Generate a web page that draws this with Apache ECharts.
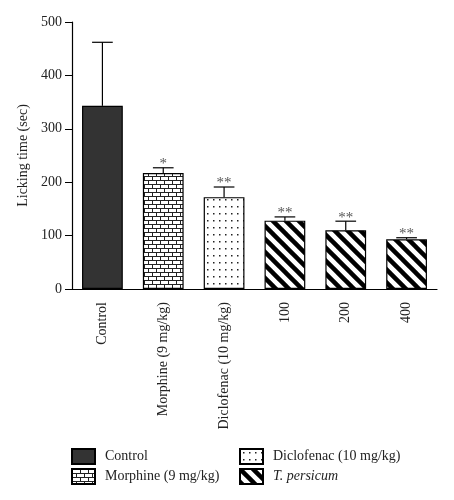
<!DOCTYPE html>
<html>
<head>
<meta charset="utf-8">
<style>
  html, body { margin: 0; padding: 0; background: #fff; }
  #chart { width: 454px; height: 500px; }
</style>
</head>
<body>
<div id="chart"></div>
<script src="https://cdn.jsdelivr.net/npm/echarts@6/dist/echarts.min.js"></script>
<script type="text/javascript">
// data
var categories = ['Control', 'Morphine (9 mg/kg)', 'Diclofenac (10 mg/kg)', '100', '200', '400'];
var means = [343, 217, 172, 128, 110, 93];
var errors = [119, 10, 19, 7, 17, 3];
var marks = ['', '*', '**', '**', '**', '**'];
var groups = ['Control', 'Morphine (9 mg/kg)', 'Diclofenac (10 mg/kg)', 'T. persicum'];
var groupOf = [0, 1, 2, 3, 3, 3];
var yTicks = [0, 100, 200, 300, 400, 500];

var FONT = 'Liberation Serif';

function makeTile(w, h, draw) {
    var c = document.createElement('canvas');
    c.width = w; c.height = h;
    var ctx = c.getContext('2d');
    ctx.fillStyle = '#fff';
    ctx.fillRect(0, 0, w, h);
    draw(ctx, w, h);
    return { image: c, repeat: 'repeat' };
}

var brick = makeTile(8, 8, function (ctx) {
    ctx.fillStyle = '#222';
    ctx.fillRect(0, 0, 8, 1);
    ctx.fillRect(0, 4, 8, 1);
    ctx.fillRect(0, 0, 1, 4);
    ctx.fillRect(4, 4, 1, 4);
});
var dots = makeTile(6, 7, function (ctx) {
    ctx.fillStyle = '#222';
    ctx.fillRect(3, 3, 1.5, 1.5);
});
var stripes = makeTile(13, 13, function (ctx, s) {
    ctx.strokeStyle = '#000';
    ctx.lineWidth = 4.5;
    for (var k = -1; k <= 1; k++) {
        ctx.beginPath();
        ctx.moveTo(k * s - 2, -2);
        ctx.lineTo(k * s + s + 2, s + 2);
        ctx.stroke();
    }
});
var fills = ['#333333', brick, dots, stripes];

var series = groups.map(function (g, gi) {
    return {
        name: g,
        type: 'bar',
        barWidth: '67%',
        barGap: '-100%',
        itemStyle: { color: fills[gi], borderColor: '#000', borderWidth: 1.2 },
        data: means.map(function (v, i) { return groupOf[i] === gi ? v : '-'; })
    };
});

series.push({
    type: 'custom',
    name: 'err',
    z: 5,
    data: means.map(function (v, i) { return [i, v, v + errors[i], marks[i]]; }),
    renderItem: function (params, api) {
        var base = api.coord([api.value(0), api.value(1)]);
        var top = api.coord([api.value(0), api.value(2)]);
        var half = api.size([1, 0])[0] * 0.17;
        var line = { stroke: '#000', lineWidth: 1.2 };
        return {
            type: 'group',
            children: [
                { type: 'line', shape: { x1: base[0], y1: base[1], x2: top[0], y2: top[1] }, style: line },
                { type: 'line', shape: { x1: top[0] - half, y1: top[1], x2: top[0] + half, y2: top[1] }, style: line },
                { type: 'text', style: {
                    text: marks[params.dataIndex], x: top[0], y: top[1] + 4,
                    align: 'center', verticalAlign: 'bottom',
                    font: '15px "' + FONT + '"', fill: '#555'
                } }
            ]
        };
    }
});

var legendText = {
    fontFamily: FONT, fontSize: 14, color: '#222', padding: [0, 0, 0, 5],
    rich: { i: { fontFamily: FONT, fontSize: 14, fontStyle: 'italic', color: '#222' } }
};
function legendFmt(name) { return name === 'T. persicum' ? '{i|' + name + '}' : name; }

var myChart = echarts.init(document.getElementById('chart'));
var option = {
    animation: false,
    grid: { left: 72, right: 17, top: 22, bottom: 211 },
    legend: [{
        orient: 'vertical', left: 71, top: 448, padding: 0, itemWidth: 23, itemHeight: 15, itemGap: 3,
        icon: 'rect', data: groups.slice(0, 2), textStyle: legendText, formatter: legendFmt
    }, {
        orient: 'vertical', left: 239, top: 448, padding: 0, itemWidth: 23, itemHeight: 15, itemGap: 3,
        icon: 'rect', data: groups.slice(2), textStyle: legendText, formatter: legendFmt
    }],
    xAxis: {
        type: 'category',
        data: categories,
        axisLine: { lineStyle: { color: '#000', width: 1.2 } },
        axisTick: { alignWithLabel: true, length: 6, lineStyle: { color: '#000' } },
        axisLabel: { rotate: 90, margin: 13, fontFamily: FONT, fontSize: 14, color: '#222' }
    },
    yAxis: {
        type: 'value',
        min: yTicks[0], max: yTicks[yTicks.length - 1], interval: 100,
        name: 'Licking time (sec)',
        nameLocation: 'middle', nameGap: 40,
        nameTextStyle: { fontFamily: FONT, fontSize: 14, color: '#222' },
        splitLine: { show: false },
        axisLine: { show: true, lineStyle: { color: '#000', width: 1.2 } },
        axisTick: { show: true, length: 7, lineStyle: { color: '#000' } },
        axisLabel: { margin: 10, fontFamily: FONT, fontSize: 14, color: '#222' }
    },
    series: series
};
myChart.setOption(option);
</script>
</body>
</html>
